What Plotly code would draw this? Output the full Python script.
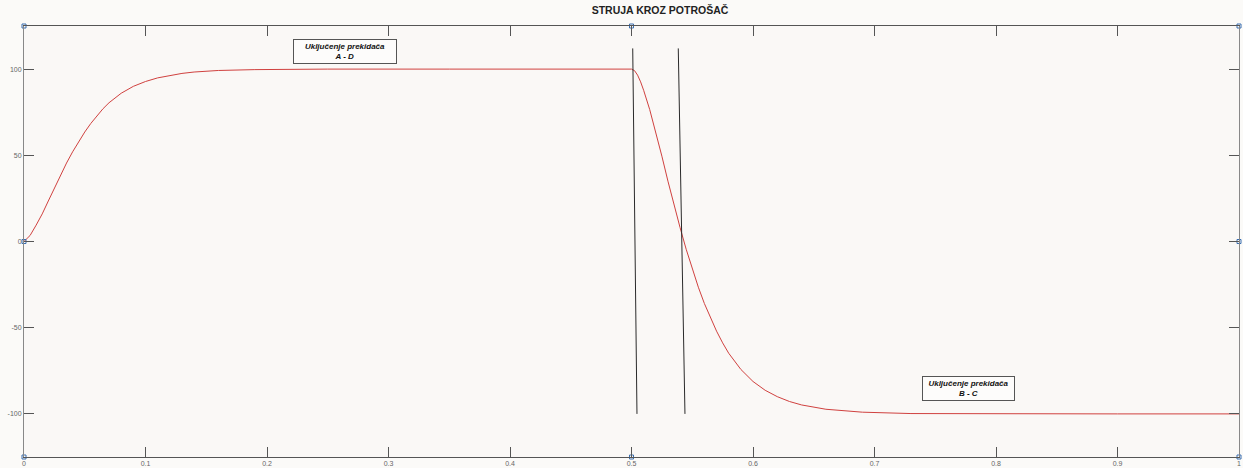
import plotly.graph_objects as go

# Current through the load
t_rise = [0.0, 0.005, 0.010, 0.015, 0.020, 0.025, 0.030, 0.035, 0.040, 0.045, 0.050, 0.055, 0.060,
          0.065, 0.070, 0.075, 0.080, 0.090, 0.100, 0.110, 0.120, 0.130, 0.140, 0.160, 0.190, 0.250,
          0.350, 0.450, 0.500]
i_rise = [0.0, 3.5, 9.5, 16.0, 23.5, 31.0, 38.5, 45.5, 52.0, 58.0, 63.5, 68.5, 73.0,
          77.0, 80.5, 83.5, 86.0, 90.0, 92.8, 94.9, 96.4, 97.5, 98.3, 99.2, 99.7, 100.0,
          100.0, 100.0, 100.0]

t_fall = [0.5025, 0.505, 0.5075, 0.510, 0.515, 0.520, 0.525, 0.530, 0.535, 0.540, 0.545, 0.550,
          0.555, 0.560, 0.565, 0.570, 0.575, 0.580, 0.590, 0.600, 0.610, 0.620, 0.630, 0.640,
          0.660, 0.690, 0.730, 0.800, 0.900, 1.000]
i_fall = [99.1, 96.5, 92.6, 87.7, 76.5, 63.5, 49.5, 35.0, 21.0, 8.0, -4.5, -16.0,
          -26.5, -36.0, -44.5, -52.0, -58.8, -64.8, -74.2, -81.2, -86.3, -90.0, -92.8, -94.8,
          -97.3, -99.0, -99.8, -100.0, -100.0, -100.0]

t_all = t_rise + t_fall
i_all = i_rise + i_fall

# Two switching marker lines
marker1_x = [0.501, 0.5045]
marker1_y = [112, -100]
marker2_x = [0.5385, 0.544]
marker2_y = [112, -100]

# Selection handles (MATLAB-style) on the axes box
handle_x = [0, 0.5, 1, 1, 1, 0.5, 0, 0]
handle_y = [125, 125, 125, 0, -125, -125, -125, 0]

x_ticks = [0, 0.1, 0.2, 0.3, 0.4, 0.5, 0.6, 0.7, 0.8, 0.9, 1]
x_tick_labels = ["0", "0.1", "0.2", "0.3", "0.4", "0.5", "0.6", "0.7", "0.8", "0.9", "1"]
y_ticks = [-100, -50, 0, 50, 100]
y_tick_labels = ["-100", "-50", "0", "50", "100"]

title_text = "STRUJA KROZ POTROŠAČ"
label_ad = "<b><i>Uključenje prekidača</i></b><br><b><i>A - D</i></b>"
label_bc = "<b><i>Uključenje prekidača</i></b><br><b><i>B - C</i></b>"

fig = go.Figure()
fig.add_trace(go.Scatter(x=t_all, y=i_all, mode="lines",
                         line=dict(color="#d0413f", width=1),
                         showlegend=False, hoverinfo="skip"))
fig.add_trace(go.Scatter(x=marker1_x, y=marker1_y, mode="lines",
                         line=dict(color="#2a2a2a", width=1), showlegend=False))
fig.add_trace(go.Scatter(x=marker2_x, y=marker2_y, mode="lines",
                         line=dict(color="#2a2a2a", width=1), showlegend=False))
fig.add_trace(go.Scatter(x=handle_x, y=handle_y, mode="markers",
                         marker=dict(symbol="square-open", size=4, color="#3a6fb0",
                                     line=dict(width=1, color="#3a6fb0")),
                         cliponaxis=False, showlegend=False))

fig.add_annotation(x=0.264, y=110, xref="x", yref="y", text=label_ad, showarrow=False,
                   font=dict(family="Liberation Sans, Arial", size=8, color="#111"),
                   bordercolor="#555", borderwidth=1, bgcolor="#fdfcfb",
                   width=100, height=21, align="center")
fig.add_annotation(x=0.777, y=-85, xref="x", yref="y", text=label_bc, showarrow=False,
                   font=dict(family="Liberation Sans, Arial", size=8, color="#111"),
                   bordercolor="#555", borderwidth=1, bgcolor="#fdfcfb",
                   width=89, height=21, align="center")

fig.update_layout(
    width=1243, height=468,
    margin=dict(l=24, r=4, t=26, b=11, autoexpand=False),
    paper_bgcolor="#fbfaf8",
    plot_bgcolor="#faf8f6",
    font=dict(family="Liberation Sans, Arial", size=7, color="#555"),
    title=dict(text="<b>" + title_text + "</b>", x=0.531, xanchor="center",
               y=1 - 10 / 468, yanchor="middle", yref="container",
               font=dict(family="Liberation Sans, Arial", size=10.5, color="#222")),
    showlegend=False,
)
fig.update_xaxes(range=[0, 1], tickvals=x_ticks, ticktext=x_tick_labels,
                 showgrid=False, zeroline=False, showline=True, linecolor="#555",
                 linewidth=1, mirror="ticks", ticks="inside", ticklen=10,
                 tickcolor="#555", tickfont=dict(size=7, color="#666"),
                 automargin=False, ticklabelstandoff=0)
fig.update_yaxes(range=[-125, 125], tickvals=y_ticks, ticktext=y_tick_labels,
                 showgrid=False, zeroline=False, showline=True, linecolor="#888",
                 linewidth=1, mirror="ticks", ticks="inside", ticklen=10,
                 tickcolor="#555", tickfont=dict(size=7, color="#666"),
                 automargin=False)

fig.write_html(
    "out.html",
    config={"displayModeBar": False},
    post_script="document.body.style.margin='0';document.body.style.background='#fbfaf8';",
)
